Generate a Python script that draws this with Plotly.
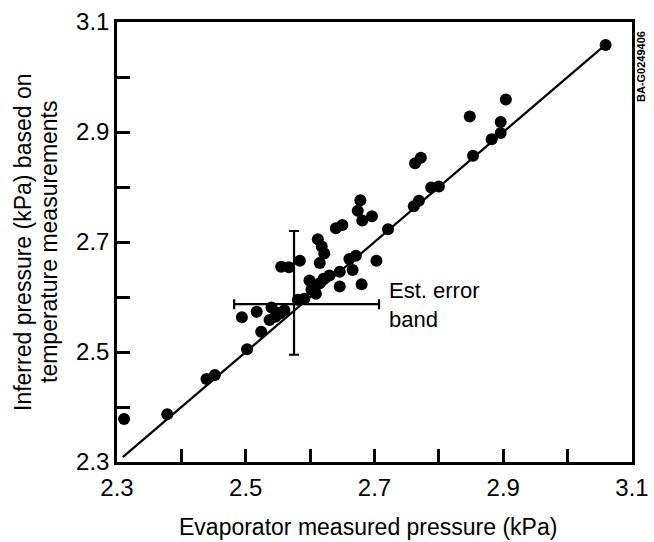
import plotly.graph_objects as go

# Measured data points (evaporator measured vs inferred pressure, kPa)
measured = [2.311, 2.378, 2.439, 2.452, 2.502, 2.524, 2.494, 2.517, 2.540, 2.537,
            2.546, 2.553, 2.560, 2.581, 2.591, 2.555, 2.567, 2.584, 2.599, 2.604,
            2.609, 2.615, 2.621, 2.630, 2.646, 2.646, 2.615, 2.612, 2.618, 2.622,
            2.640, 2.650, 2.661, 2.671, 2.666, 2.680, 2.703, 2.721, 2.678, 2.674,
            2.681, 2.696, 2.761, 2.769, 2.788, 2.800, 2.763, 2.772, 2.853, 2.848,
            2.882, 2.896, 2.896, 2.904, 3.059, 2.602, 2.548]
inferred = [2.378, 2.387, 2.451, 2.458, 2.505, 2.537, 2.563, 2.573, 2.581, 2.558,
            2.564, 2.570, 2.576, 2.595, 2.597, 2.655, 2.654, 2.666, 2.630, 2.619,
            2.606, 2.625, 2.633, 2.639, 2.619, 2.646, 2.662, 2.705, 2.692, 2.679,
            2.725, 2.731, 2.669, 2.675, 2.649, 2.623, 2.666, 2.723, 2.776, 2.757,
            2.739, 2.747, 2.765, 2.775, 2.799, 2.801, 2.843, 2.853, 2.857, 2.928,
            2.887, 2.898, 2.918, 2.959, 3.058, 2.613, 2.572]

# 1:1 reference line
line_x = [2.309, 3.059]
line_y = [2.309, 3.059]

# Estimated error band cross
err_center_x = [2.575]
err_center_y = [2.587]
err_x_plus = [0.132]
err_x_minus = [0.093]
err_y_plus = [0.133]
err_y_minus = [0.092]

x_ticks = [2.3, 2.5, 2.7, 2.9, 3.1]
y_ticks = [2.3, 2.5, 2.7, 2.9, 3.1]
x_tick_text = ["2.3", "2.5", "2.7", "2.9", "3.1"]
y_tick_text = ["2.3", "2.5", "2.7", "2.9", "3.1"]

FONT = "Liberation Sans, Arial, sans-serif"
PW, PH = 515, 440  # plot area in px

fig = go.Figure()

fig.add_trace(go.Scatter(x=line_x, y=line_y, mode="lines",
                         line=dict(color="black", width=2.2),
                         hoverinfo="skip", showlegend=False))

fig.add_trace(go.Scatter(x=err_center_x, y=err_center_y, mode="markers",
                         marker=dict(size=0.1, color="black"),
                         error_x=dict(type="data", symmetric=False,
                                      array=err_x_plus, arrayminus=err_x_minus,
                                      color="black", thickness=2.2, width=5),
                         error_y=dict(type="data", symmetric=False,
                                      array=err_y_plus, arrayminus=err_y_minus,
                                      color="black", thickness=2.2, width=5),
                         showlegend=False, hoverinfo="skip"))

fig.add_trace(go.Scatter(x=measured, y=inferred, mode="markers",
                         marker=dict(size=12, color="black"),
                         showlegend=False))

axis_common = dict(
    showline=True, linecolor="black", linewidth=2.5, mirror=True,
    ticks="inside", ticklen=13, tickwidth=2.5, tickcolor="black",
    showgrid=False, zeroline=False, automargin=False,
    tickfont=dict(family=FONT, size=24, color="black"),
    minor=dict(dtick=0.1, ticks="inside", ticklen=13, tickwidth=2.5,
               tickcolor="black", showgrid=False),
)

fig.update_xaxes(range=[2.3, 3.1], tickvals=x_ticks, ticktext=x_tick_text,
                 ticklabelstandoff=2, **axis_common)
fig.update_yaxes(range=[2.3, 3.1], tickvals=y_ticks, ticktext=y_tick_text,
                 ticklabelstandoff=0, **axis_common)

title_font = dict(family=FONT, size=23, color="black")

fig.update_layout(
    width=654, height=542,
    margin=dict(l=117, r=22, t=22, b=80),
    plot_bgcolor="white", paper_bgcolor="white",
    font=dict(family=FONT, color="black"),
    annotations=[
        dict(text="Evaporator measured pressure (kPa)", xref="paper", yref="paper",
             x=(368 - 117) / PW, y=-65 / PH, xanchor="center", yanchor="middle",
             showarrow=False, font=title_font),
        dict(text="Inferred pressure (kPa) based on",
             xref="paper", yref="paper", x=(23 - 117) / PW, y=0.5, textangle=-90,
             xanchor="center", yanchor="middle", showarrow=False, font=title_font),
        dict(text="temperature measurements",
             xref="paper", yref="paper", x=(49 - 117) / PW, y=0.5, textangle=-90,
             xanchor="center", yanchor="middle", showarrow=False, font=title_font),
        dict(text="Est. error<br>band", xref="x", yref="y", x=2.719, y=2.586,
             xanchor="left", yanchor="middle", align="left", showarrow=False,
             font=dict(family=FONT, size=22, color="black")),
        dict(text="<b>BA-G0249406</b>", xref="paper", yref="paper",
             x=1.0 + 9 / PW, y=1.0 - 45 / PH, textangle=-90,
             xanchor="center", yanchor="middle", showarrow=False,
             font=dict(family=FONT, size=11, color="black")),
    ],
)

fig.write_html("out.html",
               config={"displayModeBar": False},
               post_script="document.body.style.margin='0px';document.body.style.overflow='hidden';")
